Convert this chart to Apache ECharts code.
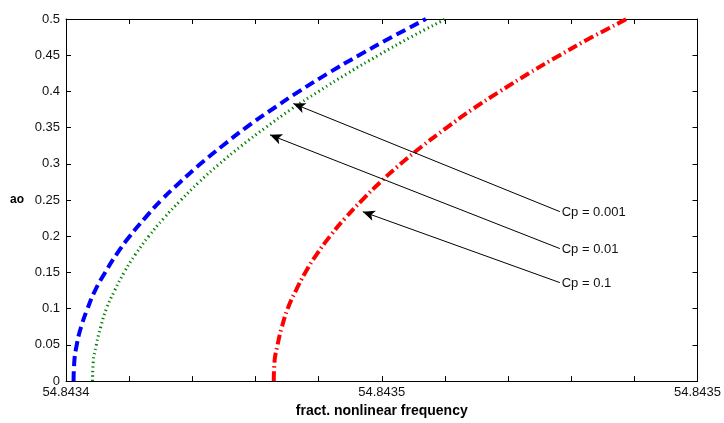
<!DOCTYPE html>
<html>
<head>
<meta charset="utf-8">
<script src="https://cdn.jsdelivr.net/npm/echarts@6/dist/echarts.min.js"></script>
<style>html,body{margin:0;padding:0;background:#fff}#c{width:724px;height:423px}</style>
</head>
<body>
<div id="c"></div>
<script>
// amplitude values (ao), shared by all curves
var ampl = [0, 0.025, 0.05, 0.075, 0.1, 0.125, 0.15, 0.175, 0.2, 0.225, 0.25, 0.275, 0.3, 0.325, 0.35, 0.375, 0.4, 0.425, 0.45, 0.475, 0.5];
// frequency, as offset from 54.8434 in units of 1e-5
var freqCp0001 = [0.12, 0.13, 0.17, 0.24, 0.34, 0.46, 0.62, 0.80, 1.01, 1.25, 1.51, 1.81, 2.13, 2.48, 2.85, 3.26, 3.69, 4.15, 4.64, 5.16, 5.70];
var freqCp001  = [0.42, 0.43, 0.48, 0.55, 0.64, 0.77, 0.92, 1.10, 1.31, 1.55, 1.82, 2.11, 2.43, 2.78, 3.16, 3.56, 4.00, 4.46, 4.95, 5.46, 6.01];
var freqCp01   = [3.29, 3.30, 3.35, 3.42, 3.51, 3.64, 3.79, 3.97, 4.18, 4.42, 4.69, 4.98, 5.30, 5.65, 6.03, 6.43, 6.87, 7.33, 7.82, 8.33, 8.88];
var xTickLabels = ['54.8434', '', '', '', '', '54.8435', '', '', '', '', '54.8435'];
// annotation labels and arrows: [textX, textY, tipX, tipY] in data units
var annLabels = ['Cp = 0.001', 'Cp = 0.01', 'Cp = 0.1'];
var annPoints = [[7.82, 0.2340, 3.60, 0.3832], [7.82, 0.1830, 3.23, 0.3400], [7.82, 0.1360, 4.70, 0.2339]];

function pairs(xs, ys) { return xs.map(function (x, i) { return [x, ys[i]]; }); }

var font = 'Liberation Sans, Arial, sans-serif';
var axisCommon = {
  axisLine: { show: true, onZero: false, lineStyle: { color: '#000', width: 1 } },
  axisTick: { show: true, inside: true, length: 5, lineStyle: { color: '#000', width: 1 } },
  splitLine: { show: false }
};

var chart = echarts.init(document.getElementById('c'), null, { renderer: 'canvas' });
chart.setOption({
  animation: false,
  backgroundColor: '#fff',
  grid: { left: 66, right: 26, top: 19, bottom: 40, containLabel: false },
  xAxis: [
    Object.assign({}, axisCommon, {
      type: 'value', min: 0, max: 10, interval: 1, position: 'bottom',
      name: 'fract. nonlinear frequency', nameLocation: 'middle', nameGap: 22,
      nameTextStyle: { fontFamily: font, fontWeight: 'bold', fontSize: 14, color: '#000' },
      axisLabel: { show: true, margin: 5, fontFamily: font, fontSize: 13, color: '#111' ,
        formatter: function (v) { return xTickLabels[Math.round(v)]; } }
    }),
    Object.assign({}, axisCommon, {
      type: 'value', min: 0, max: 10, interval: 1, position: 'top', axisLabel: { show: false }
    })
  ],
  yAxis: [
    Object.assign({}, axisCommon, {
      type: 'value', min: 0, max: 0.5, interval: 0.05, position: 'left',
      name: 'ao', nameLocation: 'middle', nameGap: 42, nameRotate: 0,
      nameTextStyle: { fontFamily: font, fontWeight: 'bold', fontSize: 12, color: '#000', padding: [4, 0, 0, 0] },
      axisLabel: { show: true, margin: 6, fontFamily: font, fontSize: 13, color: '#111' }
    }),
    Object.assign({}, axisCommon, {
      type: 'value', min: 0, max: 0.5, interval: 0.05, position: 'right', axisLabel: { show: false }
    })
  ],
  series: [
    {
      type: 'line', name: 'Cp = 0.001', data: pairs(freqCp0001, ampl), showSymbol: false, smooth: true,
      lineStyle: { color: '#0000ff', width: 4, type: [10, 5] }
    },
    {
      type: 'line', name: 'Cp = 0.01', data: pairs(freqCp001, ampl), showSymbol: false, smooth: true,
      lineStyle: { color: '#008000', width: 3, type: [1.3, 3.2] }
    },
    {
      type: 'line', name: 'Cp = 0.1', data: pairs(freqCp01, ampl), showSymbol: false, smooth: true,
      lineStyle: { color: '#ff0000', width: 4, type: [10, 3.5, 1.5, 3.5] }
    },
    {
      type: 'line', data: [], silent: true,
      markLine: {
        silent: true, animation: false,
        symbol: ['none', 'arrow'], symbolSize: [8, 12],
        lineStyle: { color: '#000', width: 1, type: 'solid' },
        label: { show: true, position: 'start', distance: 2, fontFamily: font, fontSize: 13, color: '#111',
          formatter: function (p) { return p.name; } },
        data: annPoints.map(function (p, i) {
          return [{ name: annLabels[i], coord: [p[0], p[1]] }, { coord: [p[2], p[3]] }];
        })
      }
    }
  ]
});
</script>
</body>
</html>
